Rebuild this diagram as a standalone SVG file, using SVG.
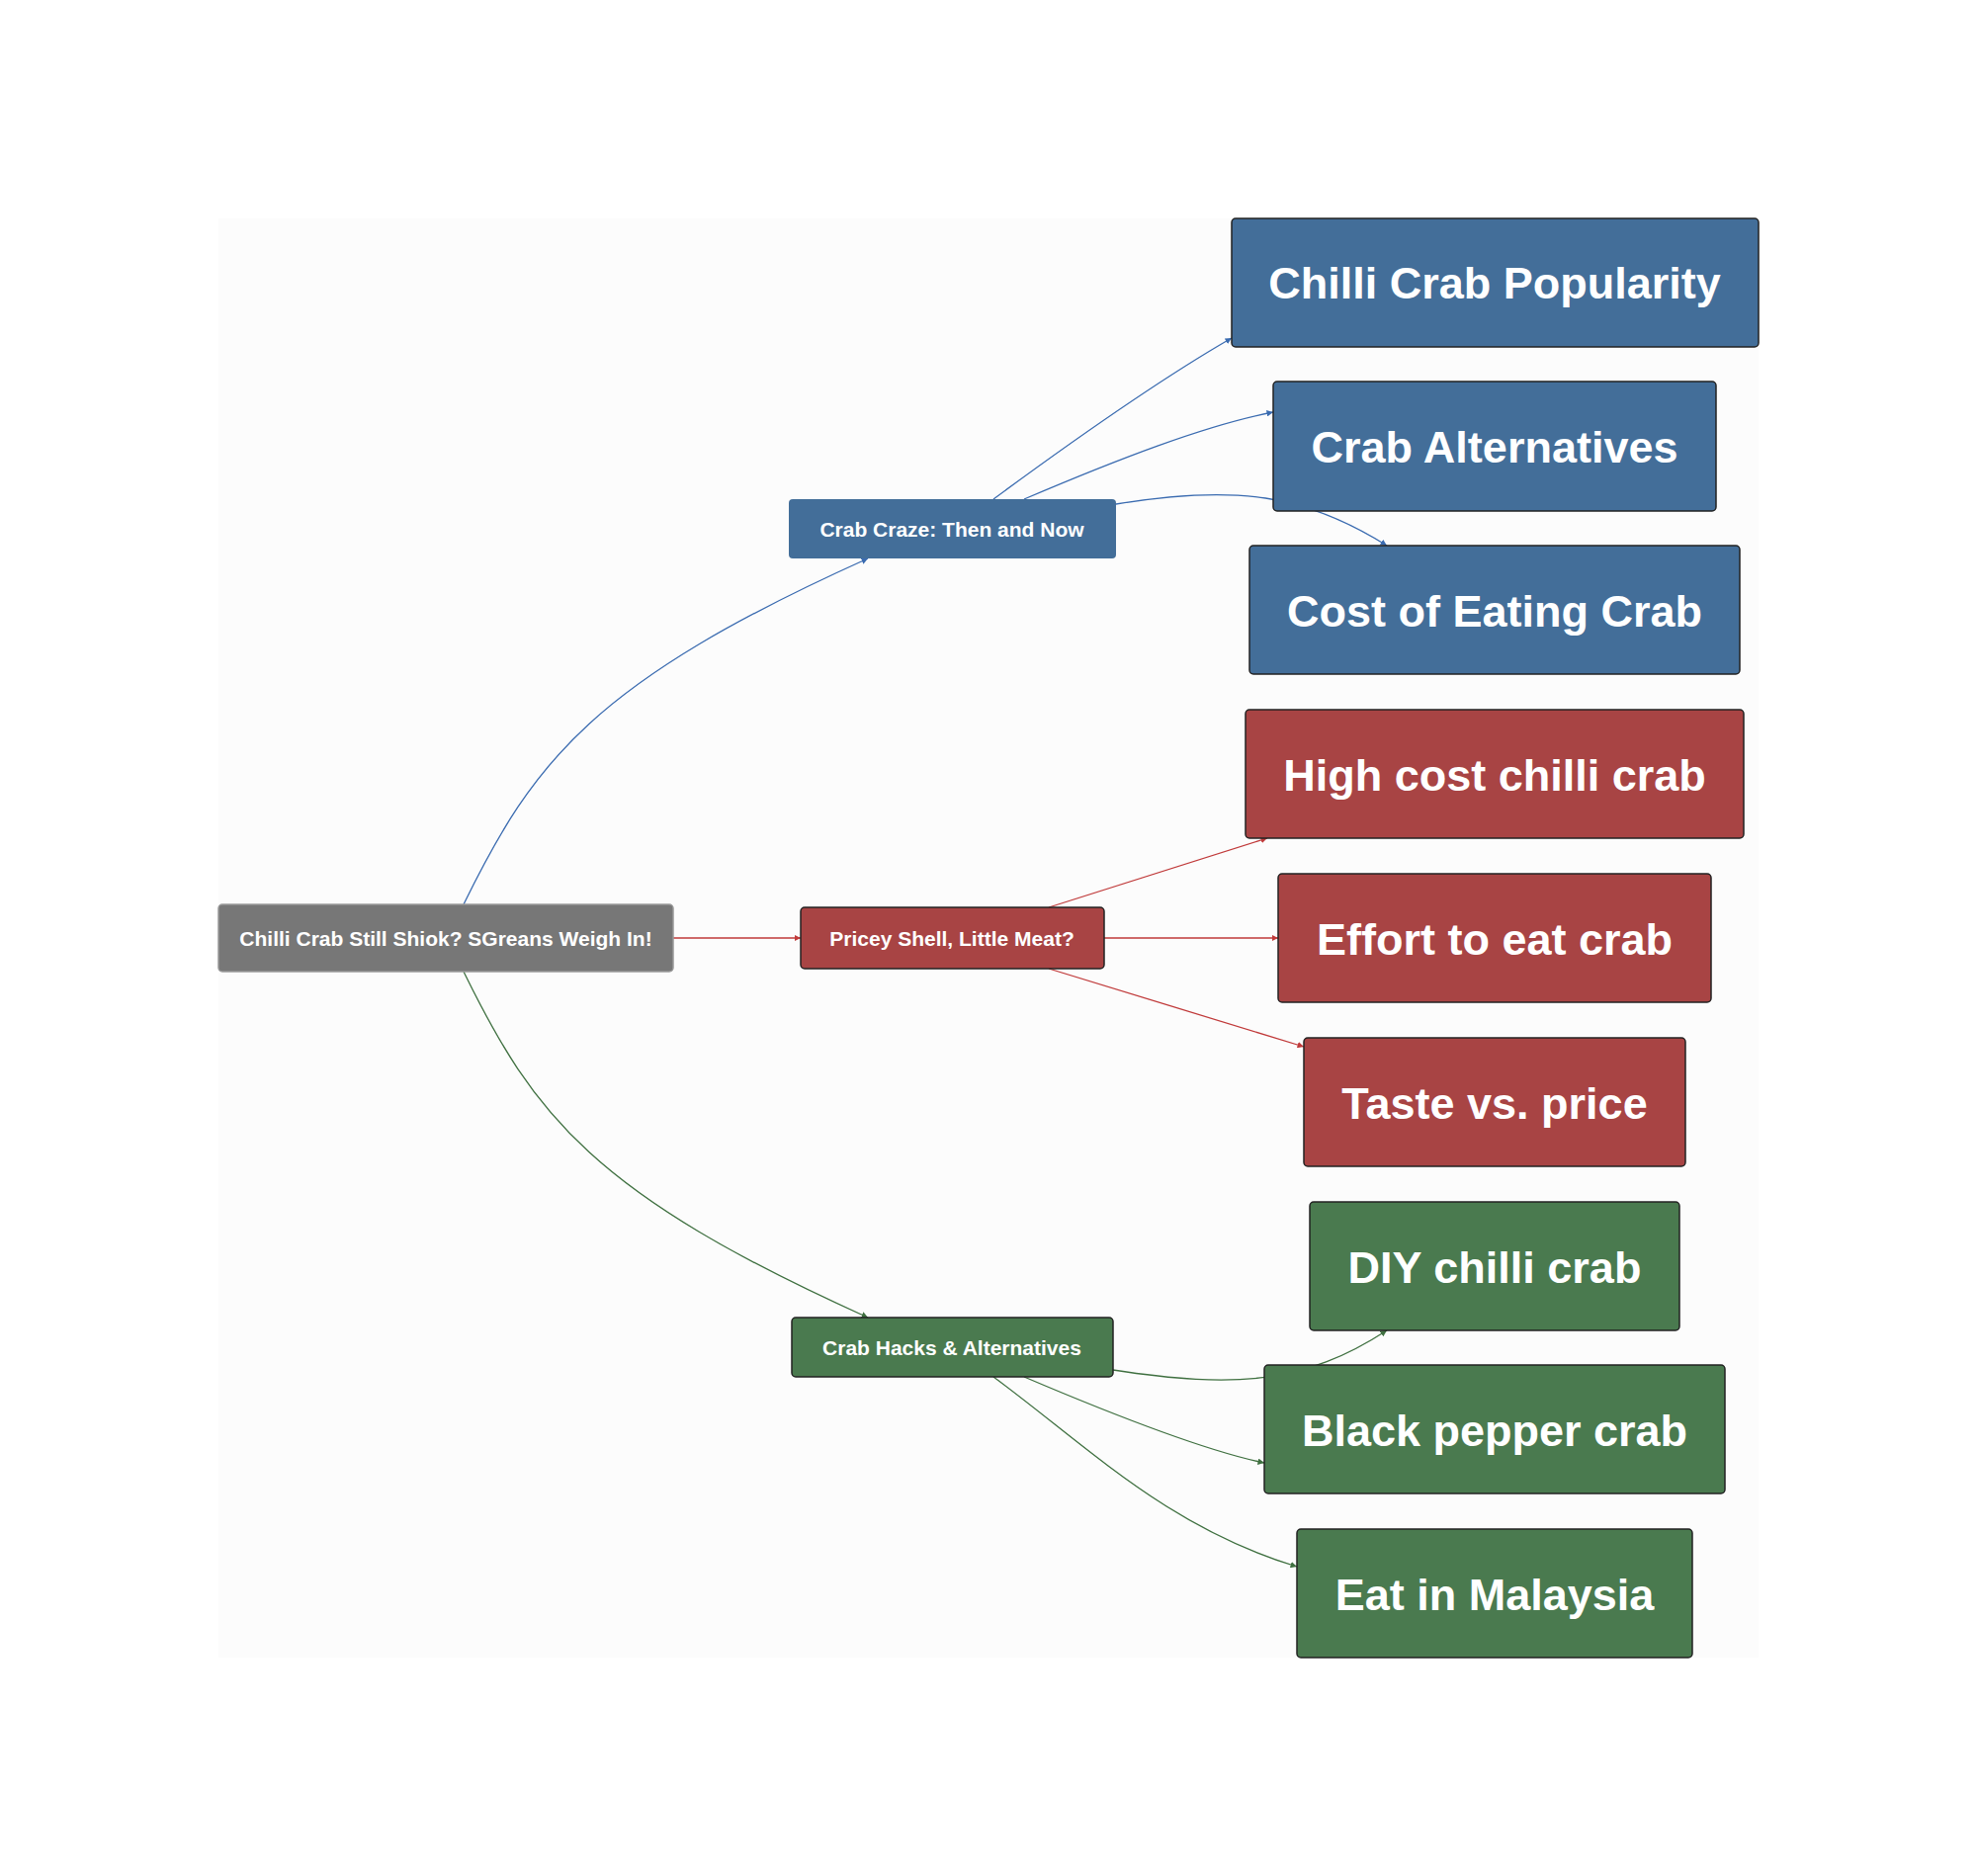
<svg xmlns="http://www.w3.org/2000/svg" width="2000" height="1898" viewBox="0 0 2000 1898">
<style>
.n rect{stroke:#222;stroke-width:1.5}
.b rect{fill:#436e99}.r rect{fill:#a84444}.g rect{fill:#4a7a4f}.k rect{fill:#777;stroke:#999}
text{font-family:"Liberation Sans",Arial,sans-serif;font-weight:bold;fill:#fff;text-anchor:middle;dominant-baseline:central}
.s text{font-size:21px}.l text{font-size:45px}
.e path{fill:none;stroke-width:1.3}
</style>
<defs>
<marker id="mb" viewBox="0 0 10 10" refX="10" refY="5" markerWidth="5" markerHeight="5" orient="auto"><path d="M0,0L10,5L0,10z" fill="#3a6bb0"/></marker>
<marker id="mr" viewBox="0 0 10 10" refX="10" refY="5" markerWidth="5" markerHeight="5" orient="auto"><path d="M0,0L10,5L0,10z" fill="#c03a3a"/></marker>
<marker id="mg" viewBox="0 0 10 10" refX="10" refY="5" markerWidth="5" markerHeight="5" orient="auto"><path d="M0,0L10,5L0,10z" fill="#3f7040"/></marker>
</defs>
<rect width="2000" height="1898" fill="#fff"/>
<rect x="221" y="221" width="1558" height="1456" fill="#fcfcfc"/>
<g class="e">
<path d="M469,915 C540,770 600,690 878,565" stroke="#3a6bb0" marker-end="url(#mb)"/>
<path d="M469,983 C540,1128 600,1208 878,1333" stroke="#3f7040" marker-end="url(#mg)"/>
<path d="M681,949 L810,949" stroke="#c03a3a" marker-end="url(#mr)"/>
<path d="M1005,505 C1100,435 1180,380 1246,342" stroke="#3a6bb0" marker-end="url(#mb)"/>
<path d="M1036,505 C1130,465 1220,430 1288,417" stroke="#3a6bb0" marker-end="url(#mb)"/>
<path d="M1129,510 C1250,490 1320,500 1403,552" stroke="#3a6bb0" marker-end="url(#mb)"/>
<path d="M1061,918 L1282,848" stroke="#c03a3a" marker-end="url(#mr)"/>
<path d="M1117,949 L1293,949" stroke="#c03a3a" marker-end="url(#mr)"/>
<path d="M1061,980 L1319,1059" stroke="#c03a3a" marker-end="url(#mr)"/>
<path d="M1126,1386 C1250,1405 1320,1400 1403,1346" stroke="#3f7040" marker-end="url(#mg)"/>
<path d="M1036,1393 C1130,1433 1220,1468 1279,1480" stroke="#3f7040" marker-end="url(#mg)"/>
<path d="M1005,1393 C1100,1463 1180,1545 1312,1585" stroke="#3f7040" marker-end="url(#mg)"/>
</g>
<g id="root" class="n k s"><rect x="221" y="915" width="460" height="68" rx="4"/><text x="451" y="949">Chilli Crab Still Shiok? SGreans Weigh In!</text></g>
<g id="craze" class="n b s"><rect x="798" y="505" width="331" height="60" rx="4" style="stroke:none"/><text x="963" y="535">Crab Craze: Then and Now</text></g>
<g id="pricey" class="n r s"><rect x="810" y="918" width="307" height="62" rx="4"/><text x="963" y="949">Pricey Shell, Little Meat?</text></g>
<g id="hacks" class="n g s"><rect x="801" y="1333" width="325" height="60" rx="4"/><text x="963" y="1363">Crab Hacks &amp; Alternatives</text></g>
<g id="pop" class="n b l"><rect x="1246" y="221" width="533" height="130" rx="4"/><text x="1512" y="286">Chilli Crab Popularity</text></g>
<g id="alt" class="n b l"><rect x="1288" y="386" width="448" height="131" rx="4"/><text x="1512" y="452">Crab Alternatives</text></g>
<g id="cost" class="n b l"><rect x="1264" y="552" width="496" height="130" rx="4"/><text x="1512" y="618">Cost of Eating Crab</text></g>
<g id="high" class="n r l"><rect x="1260" y="718" width="504" height="130" rx="4"/><text x="1512" y="784">High cost chilli crab</text></g>
<g id="effort" class="n r l"><rect x="1293" y="884" width="438" height="130" rx="4"/><text x="1512" y="950">Effort to eat crab</text></g>
<g id="taste" class="n r l"><rect x="1319" y="1050" width="386" height="130" rx="4"/><text x="1512" y="1116">Taste vs. price</text></g>
<g id="diy" class="n g l"><rect x="1325" y="1216" width="374" height="130" rx="4"/><text x="1512" y="1282">DIY chilli crab</text></g>
<g id="pepper" class="n g l"><rect x="1279" y="1381" width="466" height="130" rx="4"/><text x="1512" y="1447">Black pepper crab</text></g>
<g id="my" class="n g l"><rect x="1312" y="1547" width="400" height="130" rx="4"/><text x="1512" y="1613">Eat in Malaysia</text></g>
</svg>
